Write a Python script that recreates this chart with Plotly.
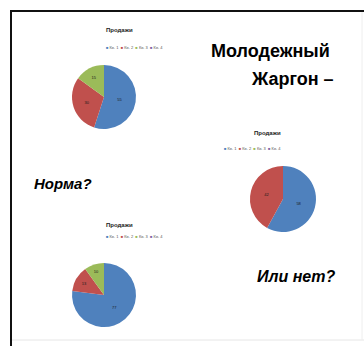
import plotly.graph_objects as go

W, H = 364, 346

categories = ["Кв. 1", "Кв. 2", "Кв. 3", "Кв. 4"]
pie1_values = [55, 30, 15, 0]
pie2_values = [58, 42, 0, 0]
pie3_values = [77, 13, 10, 0]
chart_title = "Продажи"
colors = ["#4F81BD", "#C0504D", "#9BBB59", "#8064A2"]

# pie centres / diameters in pixels (layout only)
pies = [
    (pie1_values, 104, 97, 64),
    (pie2_values, 283, 199, 66),
    (pie3_values, 104, 295, 64),
]
title_y = [25, 133, 225]
legend_y = [43, 148, 241]

fig = go.Figure()
for vals, cx, cy, d in pies:
    fig.add_trace(go.Pie(
        labels=categories, values=vals, sort=False, direction="clockwise",
        rotation=0, marker=dict(colors=colors, line=dict(width=0)),
        textinfo="value", textposition="inside",
        textfont=dict(size=4, color="#1a1a1a"), insidetextorientation="horizontal",
        showlegend=False, hoverinfo="label+value",
        domain=dict(x=[(cx - d / 2) / W, (cx + d / 2) / W],
                    y=[1 - (cy + d / 2) / H, 1 - (cy - d / 2) / H]),
    ))

legend_html = "  ".join(
    f"<span style='color:{c}'>■</span> {n}" for c, n in zip(colors, categories))

ann = []
for (vals, cx, cy, d), ty, ly in zip(pies, title_y, legend_y):
    ann.append(dict(x=cx / W, y=1 - ty / H, xref="paper", yref="paper",
                    text=f"<b>{chart_title}</b>", showarrow=False,
                    font=dict(size=6, color="#222", family="Liberation Sans")))
    ann.append(dict(x=cx / W, y=1 - ly / H, xref="paper", yref="paper",
                    text=legend_html, showarrow=False,
                    font=dict(size=4, color="#555", family="Liberation Sans")))

ann += [
    dict(x=209 / W, y=1 - 39 / H, xref="paper", yref="paper", xanchor="left",
         text="<b>Молодежный</b>", showarrow=False,
         font=dict(size=18, color="#000", family="Liberation Sans")),
    dict(x=336 / W, y=1 - 67 / H, xref="paper", yref="paper", xanchor="right",
         text="<b>Жаргон –</b>", showarrow=False,
         font=dict(size=18, color="#000", family="Liberation Sans")),
    dict(x=32 / W, y=1 - 184 / H, xref="paper", yref="paper", xanchor="left",
         text="<b><i>Норма?</i></b>", showarrow=False,
         font=dict(size=15, color="#000", family="Liberation Sans")),
    dict(x=255 / W, y=1 - 287 / H, xref="paper", yref="paper", xanchor="left",
         text="<b><i>Или нет?</i></b>", showarrow=False,
         font=dict(size=16, color="#000", family="Liberation Sans")),
]

shapes = [
    dict(type="line", xref="paper", yref="paper", x0=10 / W, x1=1, y0=1 - 11 / H, y1=1 - 11 / H,
         line=dict(color="#111", width=2)),
    dict(type="line", xref="paper", yref="paper", x0=11 / W, x1=11 / W, y0=0, y1=1 - 10 / H,
         line=dict(color="#111", width=2)),
    dict(type="line", xref="paper", yref="paper", x0=12 / W, x1=1, y0=1 - 340 / H, y1=1 - 340 / H,
         line=dict(color="#e6e6e6", width=1)),
    dict(type="line", xref="paper", yref="paper", x0=362 / W, x1=362 / W, y0=1 - 340 / H, y1=1 - 12 / H,
         line=dict(color="#eeeeee", width=1)),
]

fig.update_layout(width=W, height=H, margin=dict(l=0, r=0, t=0, b=0),
                  paper_bgcolor="white", plot_bgcolor="white",
                  annotations=ann, shapes=shapes,
                  font=dict(family="Liberation Sans"))
fig.write_html("out.html", config={"displayModeBar": False},
               post_script="document.body.style.margin='0';document.body.style.overflow='hidden';")
